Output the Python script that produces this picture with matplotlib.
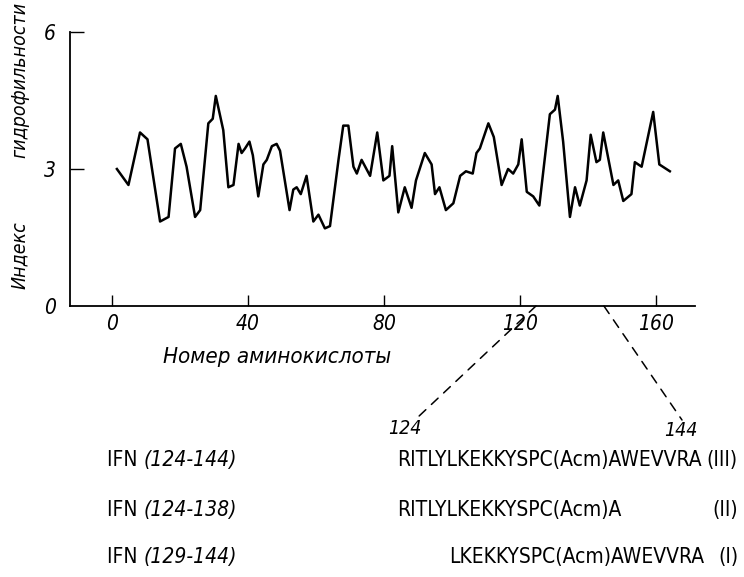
import matplotlib
matplotlib.use("Agg")
import matplotlib.pyplot as plt
from matplotlib.patches import ConnectionPatch

plt.rcParams['font.family'] = ['DejaVu Sans']
plt.rcParams['font.stretch'] = 'condensed'

# hydrophilicity profile
residue = [1.4, 4.8, 8.2, 10.4, 14.1, 16.6, 18.5, 20.2, 21.9, 24.4, 25.9, 28.3, 29.6, 30.5,
           32.7, 34.2, 35.7, 37.2, 38.1, 39.1, 40.4, 41.4, 43.0, 44.5, 45.5, 47.0, 48.4,
           49.4, 52.2, 53.3, 54.3, 55.5, 57.2, 59.2, 60.7, 62.6, 64.1, 66.6, 68.0, 69.5,
           71.0, 72.0, 73.4, 75.9, 78.0, 79.8, 81.6, 82.4, 84.2, 86.1, 88.1, 89.4, 92.0,
           94.0, 95.0, 96.3, 98.2, 100.4, 102.4, 104.1, 106.1, 107.2, 108.2, 110.7, 112.3,
           114.6, 116.5, 118.0, 119.5, 120.5, 122.0, 123.9, 125.7, 128.8, 130.3, 131.1,
           132.7, 134.7, 136.2, 137.6, 139.6, 140.8, 142.5, 143.5, 144.5, 147.5, 148.9,
           150.4, 152.8, 153.8, 155.8, 159.2, 161.0, 164.1]
index = [3.0, 2.65, 3.8, 3.65, 1.85, 1.95, 3.45, 3.55, 3.05, 1.95, 2.1, 4.0, 4.1, 4.6,
         3.85, 2.6, 2.65, 3.55, 3.35, 3.45, 3.6, 3.3, 2.4, 3.1, 3.2, 3.5, 3.55,
         3.4, 2.1, 2.55, 2.6, 2.45, 2.85, 1.85, 2.0, 1.7, 1.75, 3.2, 3.95, 3.95,
         3.05, 2.9, 3.2, 2.85, 3.8, 2.75, 2.85, 3.5, 2.05, 2.6, 2.15, 2.75, 3.35,
         3.1, 2.45, 2.6, 2.1, 2.25, 2.85, 2.95, 2.9, 3.35, 3.45, 4.0, 3.7,
         2.65, 3.0, 2.9, 3.1, 3.65, 2.5, 2.4, 2.2, 4.2, 4.3, 4.6,
         3.6, 1.95, 2.6, 2.2, 2.75, 3.75, 3.15, 3.2, 3.8, 2.65, 2.75,
         2.3, 2.45, 3.15, 3.05, 4.25, 3.1, 2.95]

x_ticks = [0, 40, 80, 120, 160]
y_ticks = [0, 3, 6]
fragment = (124, 144)

peptides = ['IFN', 'IFN', 'IFN']
ranges = ['(124-144)', '(124-138)', '(129-144)']
sequences = ['RITLYLKEKKYSPC(Acm)AWEVVRA', 'RITLYLKEKKYSPC(Acm)A', 'LKEKKYSPC(Acm)AWEVVRA']
numerals = ['(III)', '(II)', '(I)']

fig = plt.figure(figsize=(7.44, 5.77), dpi=100)
ax = fig.add_axes([70 / 744, 1 - 306 / 577, 625 / 744, 274 / 577])
ax.plot(residue, index, color='black', lw=1.8)

ax.set_xlim(-12.4, 171.5)
ax.set_ylim(0, 6)
ax.spines['top'].set_visible(False)
ax.spines['right'].set_visible(False)
for s in ('left', 'bottom'):
    ax.spines[s].set_linewidth(1.3)
ax.set_xticks(x_ticks)
ax.set_yticks(y_ticks)
ax.tick_params(axis='x', direction='in', length=8, width=1, labelsize=15, pad=6)
ax.tick_params(axis='y', direction='in', length=10, width=1, labelsize=15, pad=10)
for lab in ax.get_xticklabels() + ax.get_yticklabels():
    lab.set_style('italic')
ax.yaxis.get_major_ticks()[0].tick1line.set_visible(False)

ax.set_xlabel('Номер аминокислоты', fontsize=16, style='italic')
ax.xaxis.set_label_coords(207 / 625, -0.15)
fig.text(20 / 744, 1 - 80 / 577, 'гидрофильности', rotation=90, fontsize=14,
         style='italic', ha='center', va='center')
fig.text(20 / 744, 1 - 255 / 577, 'Индекс', rotation=90, fontsize=14,
         style='italic', ha='center', va='center')

# dashed lines from the fragment on the axis down to the sequence
ends = [(417 / 744, 1 - 418 / 577), (682 / 744, 1 - 420 / 577)]
for res, end in zip(fragment, ends):
    con = ConnectionPatch(xyA=(res + 0.7, 0), coordsA=ax.transData,
                          xyB=end, coordsB=fig.transFigure,
                          ls=(0, (6, 5)), lw=1.1, color='black')
    fig.add_artist(con)
fig.text(405 / 744, 1 - 428 / 577, str(fragment[0]), fontsize=14, style='italic',
         ha='center', va='center')
fig.text(681 / 744, 1 - 431 / 577, str(fragment[1]), fontsize=14, style='italic',
         ha='center', va='center')

rows_y = [460, 510, 557]
for pep, rng, seq, num, y in zip(peptides, ranges, sequences, numerals, rows_y):
    yf = 1 - y / 577
    t = fig.text(107 / 744, yf, pep + ' ', fontsize=15, ha='left', va='center')
    fig.canvas.draw()
    bb = t.get_window_extent()
    fig.text(bb.x1 / 744, yf, rng, fontsize=15, style='italic', ha='left', va='center')
    fig.text(738 / 744, yf, num, fontsize=15, ha='right', va='center')
    if seq.startswith('RIT'):
        fig.text(397 / 744, yf, seq, fontsize=15, ha='left', va='center')
    else:
        fig.text(704 / 744, yf, seq, fontsize=15, ha='right', va='center')

fig.savefig('out.png', dpi=100)
